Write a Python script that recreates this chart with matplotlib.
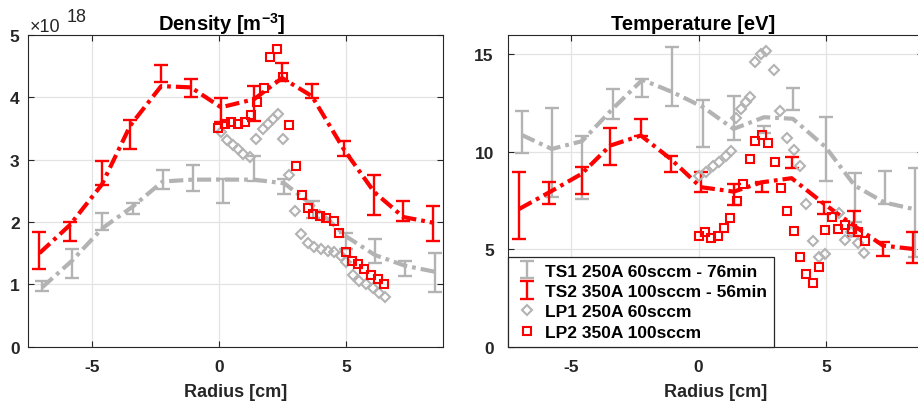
import matplotlib
matplotlib.use("Agg")
import matplotlib.pyplot as plt

plt.rcParams['font.family'] = ['Liberation Sans', 'DejaVu Sans']
plt.rcParams['mathtext.fontset'] = 'custom'
plt.rcParams['mathtext.rm'] = 'Liberation Sans:bold'
plt.rcParams['mathtext.bf'] = 'Liberation Sans:bold'
plt.rcParams['axes.unicode_minus'] = False

GREY = '#b3b3b3'
RED = '#ff0000'
AXC = '#262626'

# Thomson scattering radial positions [cm]
ts1_r = [-6.95, -5.77, -4.58, -3.38, -2.21, -1.03, 0.17, 1.37, 2.57, 3.70, 4.99, 6.13, 7.30, 8.50]
ts2_r = [-7.05, -5.86, -4.60, -3.48, -2.27, -1.10, 0.08, 1.38, 2.48, 3.65, 4.93, 6.10, 7.24, 8.40]

# Density [1e18 m^-3]: measured value, error, smoothed profile
ts1_ne = [0.98, 1.33, 2.01, 2.22, 2.68, 2.71, 2.50, 2.86, 2.57, 2.20, 1.70, 1.54, 1.26, 1.19]
ts1_ne_err = [0.08, 0.23, 0.13, 0.09, 0.15, 0.21, 0.19, 0.20, 0.12, 0.13, 0.13, 0.19, 0.12, 0.32]
ts1_ne_fit = [0.95, 1.38, 1.90, 2.25, 2.65, 2.68, 2.68, 2.68, 2.62, 2.26, 1.77, 1.47, 1.30, 1.20]
ts2_ne = [1.54, 1.85, 2.79, 3.40, 4.38, 4.15, 3.80, 3.90, 4.41, 4.10, 3.18, 2.43, 2.17, 1.97]
ts2_ne_err = [0.30, 0.15, 0.19, 0.23, 0.14, 0.15, 0.19, 0.28, 0.14, 0.11, 0.12, 0.32, 0.16, 0.28]
ts2_ne_fit = [1.50, 1.95, 2.60, 3.55, 4.18, 4.16, 3.84, 3.97, 4.31, 4.02, 3.15, 2.48, 2.08, 1.99]

# Temperature [eV]: measured value, error, smoothed profile
ts1_te = [11.02, 9.97, 9.20, 12.47, 13.28, 13.88, 11.46, 11.75, 11.15, 12.72, 10.15, 7.65, 8.18, 6.88]
ts1_te_err = [1.07, 2.30, 1.60, 0.77, 0.47, 1.50, 1.19, 1.12, 0.20, 0.56, 1.63, 1.25, 0.86, 2.29]
ts1_te_fit = [10.87, 10.15, 10.55, 12.21, 13.70, 13.07, 12.30, 11.18, 11.78, 11.70, 10.24, 8.27, 7.40, 7.05]
ts2_te = [7.26, 7.89, 8.53, 10.27, 11.27, 9.38, 8.45, 7.80, 8.19, 9.45, 7.13, 6.34, 5.02, 5.09]
ts2_te_err = [1.73, 0.56, 0.69, 0.94, 0.43, 0.39, 0.50, 0.55, 0.26, 0.28, 0.32, 0.64, 0.38, 0.79]
ts2_te_fit = [7.07, 7.93, 8.87, 10.32, 10.84, 9.64, 8.19, 7.96, 8.44, 8.65, 7.33, 6.21, 5.19, 5.02]

# Langmuir probe scans
lp1_ne_r = [0.09, 0.31, 0.55, 0.75, 0.94, 1.20, 1.47, 1.73, 1.92, 2.12, 2.31, 2.51, 2.75, 2.97,
            3.23, 3.49, 3.75, 4.02, 4.27, 4.53, 4.80, 5.00, 5.25, 5.52, 5.78, 6.04, 6.30, 6.52]
lp1_ne = [3.44, 3.31, 3.23, 3.17, 3.09, 3.04, 3.33, 3.49, 3.57, 3.66, 3.74, 3.33, 2.75, 2.18,
          1.80, 1.66, 1.60, 1.57, 1.54, 1.52, 1.46, 1.36, 1.15, 1.06, 1.01, 0.94, 0.86, 0.79]
lp2_ne_r = [-0.04, 0.22, 0.49, 0.75, 1.01, 1.27, 1.49, 1.75, 2.02, 2.27, 2.50, 2.75, 3.01, 3.25,
            3.49, 3.69, 3.95, 4.21, 4.50, 4.73, 5.00, 5.23, 5.45, 5.71, 5.98, 6.24, 6.50]
lp2_ne = [3.51, 3.58, 3.61, 3.57, 3.60, 3.72, 3.92, 4.15, 4.64, 4.77, 4.32, 3.56, 2.90, 2.44,
          2.22, 2.13, 2.10, 2.07, 2.01, 1.82, 1.52, 1.37, 1.33, 1.24, 1.15, 1.09, 1.01]

lp1_te_r = [0.00, 0.29, 0.58, 0.81, 1.07, 1.27, 1.46, 1.66, 1.85, 2.02, 2.22, 2.44, 2.64, 2.96,
            3.20, 3.48, 3.74, 4.00, 4.20, 4.48, 4.74, 4.98, 5.50, 5.75, 6.00, 6.25, 6.48]
lp1_te = [8.78, 8.96, 9.30, 9.47, 9.81, 10.07, 11.74, 12.21, 12.55, 12.81, 14.61, 15.05, 15.20, 14.18,
          12.08, 10.70, 10.10, 9.30, 7.33, 5.45, 4.60, 4.76, 6.85, 5.50, 5.90, 5.30, 4.80]
lp2_te_r = [0.00, 0.25, 0.50, 0.75, 1.00, 1.25, 1.50, 1.75, 2.00, 2.22, 2.50, 2.74, 3.00, 3.22,
            3.48, 3.74, 4.00, 4.23, 4.48, 4.73, 4.98, 5.23, 5.48, 5.76, 6.01, 6.27, 6.52]
lp2_te = [5.67, 5.88, 5.57, 5.67, 6.08, 6.61, 7.50, 8.36, 9.64, 10.58, 10.85, 10.45, 9.50, 8.17,
          6.95, 5.92, 4.62, 3.73, 3.29, 4.08, 5.98, 6.68, 6.06, 6.25, 6.03, 5.90, 5.44]

labels = ['TS1 250A 60sccm - 76min', 'TS2 350A 100sccm - 56min',
          'LP1 250A 60sccm', 'LP2 350A 100sccm']

W, H = 918, 406
fig = plt.figure(figsize=(W / 100, H / 100), dpi=100)
ax_l, ax_b, ax_w, ax_h = 28, 58.3, 415, 311.7
ax1 = fig.add_axes([ax_l / W, ax_b / H, ax_w / W, ax_h / H])
ax2 = fig.add_axes([507.7 / W, ax_b / H, ax_w / W, ax_h / H])

dashdot = (0, (3.4, 1.2, 0.9, 1.2))


def draw(ax, t1, t1e, t1f, t2, t2e, t2f, l1r, l1, l2r, l2):
    ax.plot(ts1_r, t1f, color=GREY, lw=3, ls=dashdot, zorder=2)
    h1 = ax.errorbar(ts1_r, t1, yerr=t1e, fmt='none', ecolor=GREY, elinewidth=1.7,
                     capsize=4.8, capthick=1.7, zorder=3)
    ax.plot(ts2_r, t2f, color=RED, lw=3, ls=dashdot, zorder=4)
    h2 = ax.errorbar(ts2_r, t2, yerr=t2e, fmt='none', ecolor=RED, elinewidth=1.7,
                     capsize=4.8, capthick=1.7, zorder=5)
    h3, = ax.plot(l1r, l1, ls='none', marker='D', ms=5.2, mfc='none', mec=GREY,
                  mew=1.5, zorder=6)
    h4, = ax.plot(l2r, l2, ls='none', marker='s', ms=5.6, mfc='none', mec=RED,
                  mew=1.5, zorder=7)
    ax.set_xlim(-7.5, 8.8)
    ax.set_xticks([-5, 0, 5])
    ax.grid(True, color='#e3e3e3', lw=0.9)
    ax.set_axisbelow(True)
    ax.tick_params(direction='in', length=4, width=0.8, top=True, right=True,
                   colors=AXC, labelsize=12.5)
    ax.tick_params(axis='x', pad=9)
    for s in ax.spines.values():
        s.set_color(AXC)
        s.set_linewidth(0.8)
    ax.set_xlabel('Radius [cm]', fontsize=13, fontweight='bold', color=AXC,
                  labelpad=6)
    return [h1, h2, h3, h4]


draw(ax1, ts1_ne, ts1_ne_err, ts1_ne_fit, ts2_ne, ts2_ne_err, ts2_ne_fit,
     lp1_ne_r, lp1_ne, lp2_ne_r, lp2_ne)
ax1.set_ylim(0, 5)
ax1.set_yticks([0, 1, 2, 3, 4, 5])
ax1.tick_params(axis='y', pad=6)
ax1.set_title(r'Density [m$^{-3}$]', fontsize=14.5, fontweight='bold', x=0.467, pad=4)

handles = draw(ax2, ts1_te, ts1_te_err, ts1_te_fit, ts2_te, ts2_te_err, ts2_te_fit,
               lp1_te_r, lp1_te, lp2_te_r, lp2_te)
ax2.set_ylim(0, 16)
ax2.set_yticks([0, 5, 10, 15])
ax2.tick_params(axis='y', pad=10)
ax2.set_title('Temperature [eV]', fontsize=14.5, fontweight='bold', x=0.4465, pad=4)

for ax in (ax1, ax2):
    for lab in ax.get_xticklabels() + ax.get_yticklabels():
        lab.set_fontweight('bold')

leg = ax2.legend(handles, labels, loc='lower left', bbox_to_anchor=(0, 0),
                 borderaxespad=0, fancybox=False, framealpha=1, edgecolor='#262626',
                 prop={'weight': 'bold', 'size': 12.5}, handlelength=1.4,
                 handletextpad=0.35, borderpad=0.4, labelspacing=0.3)
leg.get_frame().set_linewidth(0.9)
leg.set_zorder(10)

# power-of-ten multiplier for the density axis
fig.text(30 / W, 1 - 31.7 / H, '\u00d710', fontsize=13, color=AXC, va='baseline')
fig.text(67 / W, 1 - 21.7 / H, '18', fontsize=13, color=AXC, va='baseline')

fig.savefig('out.png', dpi=100)
